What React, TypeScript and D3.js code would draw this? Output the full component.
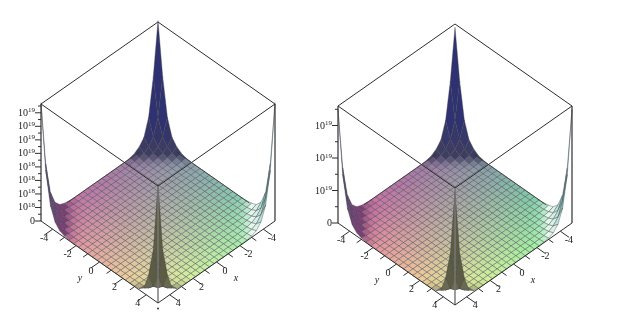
import React from 'react'
import * as d3 from 'd3'

const axisTicks = [-4, -3, -2, -1, 0, 1, 2, 3, 4]
const axisLabels = [-4, -2, 0, 2, 4]
const gridValues = d3.range(26).map(i => -5 + i * 0.4)

// height of the surface near each corner, in units of 1e18
const backRise = [
  [17.5, 9.7, 4.2, 1.7, 0.8, 0.3, 0.1],
  [9.7, 4.2, 1.8, 0.8, 0.3, 0.12, 0.04],
  [4.2, 1.8, 0.8, 0.3, 0.12, 0.04, 0.01],
  [1.7, 0.8, 0.3, 0.12, 0.04, 0.01, 0],
  [0.8, 0.3, 0.12, 0.04, 0.01, 0, 0],
  [0.3, 0.12, 0.04, 0.01, 0, 0, 0],
  [0.1, 0.04, 0.01, 0, 0, 0, 0],
]
const sideRise = [
  [17.5, 8, 3.3, 1.3, 0.5, 0.2, 0.08],
  [8, 3.4, 1.4, 0.55, 0.22, 0.08, 0.03],
  [3.3, 1.4, 0.6, 0.23, 0.09, 0.03, 0.01],
  [1.3, 0.55, 0.23, 0.09, 0.03, 0.01, 0],
  [0.5, 0.22, 0.09, 0.03, 0.01, 0, 0],
  [0.2, 0.08, 0.03, 0.01, 0, 0, 0],
  [0.08, 0.03, 0.01, 0, 0, 0, 0],
]
const frontRise = [
  [17.5, 7.4, 3.2, 0.75, 0.2, 0.08, 0.03],
  [7.4, 3, 1, 0.3, 0.08, 0.03, 0.01],
  [3.2, 1, 0.35, 0.1, 0.03, 0.01, 0],
  [0.75, 0.3, 0.1, 0.03, 0.01, 0, 0],
  [0.2, 0.08, 0.03, 0.01, 0, 0, 0],
  [0.08, 0.03, 0.01, 0, 0, 0, 0],
  [0.03, 0.01, 0, 0, 0, 0, 0],
]

const leftMajor = [2e18, 4e18, 6e18, 8e18, 1e19, 1.2e19, 1.4e19, 1.6e19]
const leftMinor = [1e18, 3e18, 5e18, 7e18, 9e18, 1.1e19, 1.3e19, 1.5e19, 1.7e19]
const leftExp = ['18', '18', '18', '18', '19', '19', '19', '19']
const rightMajor = [5e18, 1e19, 1.5e19]
const rightMinor = [2.5e18, 7.5e18, 1.25e19, 1.75e19]
const rightExp = ['19', '19', '19']

// floor colour at the four corners: back, left, right, front
const floorLeft = ['#8a84a8', '#d86ea4', '#86e8b0', '#f6f69a']
const floorRight = ['#8a82a8', '#de68a2', '#7ceca8', '#f4f696']
const midTone = ['#3e3e60', '#7a3f72', '#e6f8ec', '#74745a']
const peakTone = ['#2f3070', '#66487e', '#7cc4b6', '#5c5c44']

const across = d3.scaleLinear().domain([-10, 10]).range([41, 275])
const depth = d3.scaleLinear().domain([-10, 10]).range([139, 303])

function project(x: number, y: number, rise = 0): [number, number] {
  return [across(y - x), depth(x + y) - rise]
}

function riseAt(i: number, j: number) {
  const a = Math.min(i, 25 - i)
  const b = Math.min(j, 25 - j)
  if (a >= 7 || b >= 7) return 0
  const table = i < 13 && j < 13 ? backRise : i >= 13 && j >= 13 ? frontRise : sideRise
  return table[a][b] * 1e18
}

function Surface({ zScale, floor }: { zScale: d3.ScaleLinear<number, number>; floor: string[] }) {
  const line = d3.line()
  const frac = d3.scaleLinear().domain([-5, 5]).range([0, 1]).clamp(true)
  const cells: { d: string; fill: string; key: string }[] = []
  const order = d3.range(25).flatMap(i => d3.range(25).map(j => [i, j]))
  order.sort((a, b) => a[0] + a[1] - (b[0] + b[1]))
  order.forEach(([i, j]) => {
    const x0 = gridValues[i]
    const x1 = gridValues[i + 1]
    const y0 = gridValues[j]
    const y1 = gridValues[j + 1]
    const h = [riseAt(i, j), riseAt(i + 1, j), riseAt(i + 1, j + 1), riseAt(i, j + 1)].map(zScale)
    const corners = [project(x0, y0, h[0]), project(x1, y0, h[1]), project(x1, y1, h[2]), project(x0, y1, h[3])]
    const fx = frac((x0 + x1) / 2)
    const fy = frac((y0 + y1) / 2)
    const base = d3.interpolateRgb(
      d3.interpolateRgb(floor[0], floor[1])(fx),
      d3.interpolateRgb(floor[2], floor[3])(fx),
    )(fy)
    // which corner this cell leans towards
    const corner = (fx > 0.5 ? 1 : 0) + (fy > 0.5 ? 2 : 0)
    const steep = (d3.max(h) as number) - (d3.min(h) as number)
    const tone = d3
      .scaleLinear<string>()
      .domain([0, 2.5, 40])
      .range([base, midTone[corner], peakTone[corner]])
      .interpolate(d3.interpolateRgb)
      .clamp(true)
    cells.push({ d: line(corners) + 'Z', fill: tone(steep), key: `${i}-${j}` })
  })
  return (
    <g stroke="#40404c" strokeOpacity={0.46} strokeWidth={0.85} strokeLinejoin="round">
      {cells.map(c => (
        <path key={c.key} d={c.d} fill={c.fill} />
      ))}
    </g>
  )
}

function Panel({ dx, dy, zMax, major, minor, exps, floor }: any) {
  const zScale = d3.scaleLinear().domain([0, zMax]).range([0, 117])
  const seg = (a: [number, number], b: [number, number], o: any = {}) => (
    <line x1={a[0]} y1={a[1]} x2={b[0]} y2={b[1]} stroke="#2e2e2e" strokeWidth={1} {...o} />
  )
  const left = project(5, -5)
  const right = project(-5, 5)
  const front = project(5, 5)
  const back = project(-5, -5)
  const up = 117
  const lift = (p: [number, number]): [number, number] => [p[0], p[1] - up]
  return (
    <g transform={`translate(${dx},${dy})`}>
      <g filter="url(#soft)">
        {seg(lift(back), lift(left))}
        {seg(lift(back), lift(right))}
        <Surface zScale={zScale} floor={floor} />
        {seg(project(2.8, -5), project(-3.4, -5), { strokeOpacity: 0.8 })}
        {seg(project(-5, 2.8), project(-5, -3.4), { strokeOpacity: 0.8 })}
        {seg(lift(left), lift(front))}
        {seg(lift(right), lift(front))}
        {seg(lift(front), front, { stroke: '#777', strokeWidth: 1.8, strokeOpacity: 0.8 })}
        {seg(left, lift(left), { strokeWidth: 1.2 })}
        {seg(right, lift(right), { strokeWidth: 1.2 })}
        {seg(left, front)}
        {seg(right, front)}
        {axisTicks.map(t => {
          const len = t % 2 === 0 ? 0.75 : 0.4
          return (
            <g key={t}>
              {seg(project(5, t), project(5 + len, t))}
              {seg(project(t, 5), project(t, 5 + len))}
            </g>
          )
        })}
        {major.map((v: number) => seg([41, 221 - zScale(v)], [35, 221 - zScale(v)], { key: v }))}
        {minor.map((v: number) => seg([41, 221 - zScale(v)], [38, 221 - zScale(v)], { key: v }))}
        {seg([41, 221], [35, 221])}
      </g>
      <g fontFamily="'Liberation Serif', serif" fontSize={10} fill="#222" filter="url(#softer)">
        <text x={35} y={224} textAnchor="end">0</text>
        {major.map((v: number, i: number) => (
          <text key={v} x={35} y={224 - zScale(v)} textAnchor="end">
            10<tspan fontSize={7} dy={-3.5}>{exps[i]}</tspan>
          </text>
        ))}
        {axisLabels.map(t => {
          const a = project(5, t)
          const b = project(t, 5)
          return (
            <g key={t} textAnchor="middle">
              <text x={a[0] - 8.5} y={a[1] + 11.5}>{t}</text>
              <text x={b[0] + 8.5} y={b[1] + 11.5}>{t}</text>
            </g>
          )
        })}
        <text x={80} y={281} textAnchor="middle" fontStyle="italic">y</text>
        <text x={236} y={281} textAnchor="middle" fontStyle="italic">x</text>
        {dx === 0 && <circle cx={158} cy={308.5} r={0.9} fill="#222" />}
      </g>
    </g>
  )
}

export default function App() {
  return (
    <svg width={630} height={319} style={{ position: 'absolute', left: 0, top: 0, background: '#fff' }}>
      <defs>
        <filter id="soft" x="-5%" y="-5%" width="110%" height="110%">
          <feGaussianBlur stdDeviation={0.4} />
        </filter>
        <filter id="softer" x="-5%" y="-5%" width="110%" height="110%">
          <feGaussianBlur stdDeviation={0.25} />
        </filter>
      </defs>
      <Panel dx={0} dy={0} zMax={1.73e19} major={leftMajor} minor={leftMinor} exps={leftExp} floor={floorLeft} />
      <Panel dx={297} dy={2} zMax={1.8e19} major={rightMajor} minor={rightMinor} exps={rightExp} floor={floorRight} />
    </svg>
  )
}
